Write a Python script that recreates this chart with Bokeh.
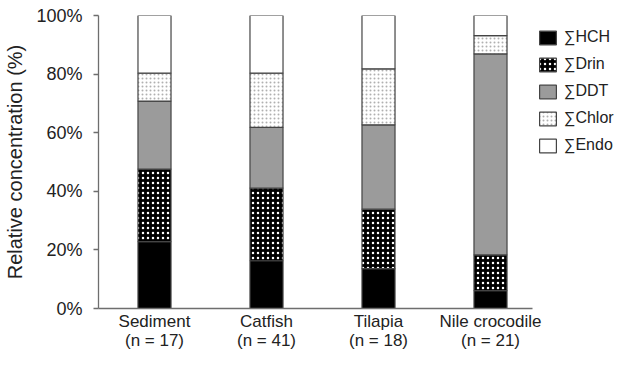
from bokeh.plotting import figure
from bokeh.models import Range1d, FixedTicker, PrintfTickFormatter, Legend, LegendItem
from bokeh.embed import file_html
from bokeh.resources import INLINE

groups = ["Sediment", "Catfish", "Tilapia", "Nile crocodile"]
group_n = ["(n = 17)", "(n = 41)", "(n = 18)", "(n = 21)"]
series = ["∑HCH", "∑Drin", "∑DDT", "∑Chlor", "∑Endo"]
hch = [22.8, 16.3, 13.6, 6.1]
drin = [24.8, 24.8, 20.3, 12.2]
ddt = [23.2, 20.7, 28.8, 68.6]
chlor = [9.5, 18.5, 19.1, 6.2]
endo = [19.7, 19.7, 18.2, 6.9]
y_ticks = [0, 20, 40, 60, 80, 100]

values = [hch, drin, ddt, chlor, endo]
xs = [0.5, 1.5, 2.5, 3.5]

W, H = 615, 352
L, T = 98, 15
FRAME_BOTTOM = 308  # expected, x-axis panel sized by its two-line labels
FW = W - L
FH = FRAME_BOTTOM - T
p = figure(width=W, height=H, output_backend="svg", toolbar_location=None,
           x_range=Range1d(0, FW / 112), y_range=Range1d(0, 100),
           min_border_left=L, min_border_top=T, min_border_bottom=H - FRAME_BOTTOM,
           min_border_right=0)
p.outline_line_color = None
p.grid.visible = False
p.background_fill_color = "white"
p.border_fill_color = "white"

styles = [
    dict(fill_color="black"),
    dict(fill_color="black", hatch_pattern="dot", hatch_color="white", hatch_scale=5, hatch_weight=3),
    dict(fill_color="#9b9b9b"),
    dict(fill_color="white", hatch_pattern="dot", hatch_color="#b0b0b0", hatch_scale=4, hatch_weight=1),
    dict(fill_color="white"),
]

bottoms = [0.0] * 4
items = []
for name, vals, st in zip(series, values, styles):
    tops = [b + v for b, v in zip(bottoms, vals)]
    r = p.vbar(x=xs, bottom=bottoms, top=tops, width=0.295,
               line_color="#444444", line_width=1.2, **st)
    items.append(LegendItem(label=name, renderers=[r]))
    bottoms = tops

leg_h = 5 * 17 + 4 * 9
legend = Legend(items=items, location=(537 - L, FRAME_BOTTOM - 33 - leg_h), margin=0, padding=0,
                border_line_color=None, background_fill_alpha=0,
                glyph_width=21, glyph_height=17, label_height=17, spacing=9,
                label_standoff=6, label_text_font="Liberation Sans",
                label_text_font_size="16px", label_text_color="#222222")
p.add_layout(legend)

ya = p.yaxis[0]
ya.ticker = FixedTicker(ticks=y_ticks)
ya.formatter = PrintfTickFormatter(format="%d%%")
ya.minor_tick_line_color = None
ya.major_tick_in = 0
ya.major_tick_out = 5
ya.axis_line_color = "#6e6e6e"
ya.major_tick_line_color = "#6e6e6e"
ya.axis_line_width = 1.3
ya.major_tick_line_width = 1.3
ya.major_label_standoff = 11
ya.major_label_text_font = "Liberation Sans"
ya.major_label_text_font_size = "18px"
ya.major_label_text_color = "#222222"
ya.axis_label = "Relative concentration (%)"
ya.axis_label_text_font = "Liberation Sans"
ya.axis_label_text_font_size = "20px"
ya.axis_label_text_font_style = "normal"
ya.axis_label_text_color = "#222222"
ya.axis_label_standoff = 7

xa = p.xaxis[0]
xa.ticker = FixedTicker(ticks=xs)
xa.bounds = (0, 434 / 112)
xa.major_label_overrides = {x: f"{g}\n{n}" for x, g, n in zip(xs, groups, group_n)}
xa.minor_tick_line_color = None
xa.major_tick_line_color = None
xa.major_tick_in = 0
xa.major_tick_out = 0
xa.axis_line_color = "#6e6e6e"
xa.axis_line_width = 1.3
xa.major_label_standoff = 3
xa.major_label_text_font = "Liberation Sans"
xa.major_label_text_font_size = "17px"
xa.major_label_text_color = "#222222"
xa.major_label_text_line_height = 1.0

open("out.html", "w").write(file_html(p, INLINE))
